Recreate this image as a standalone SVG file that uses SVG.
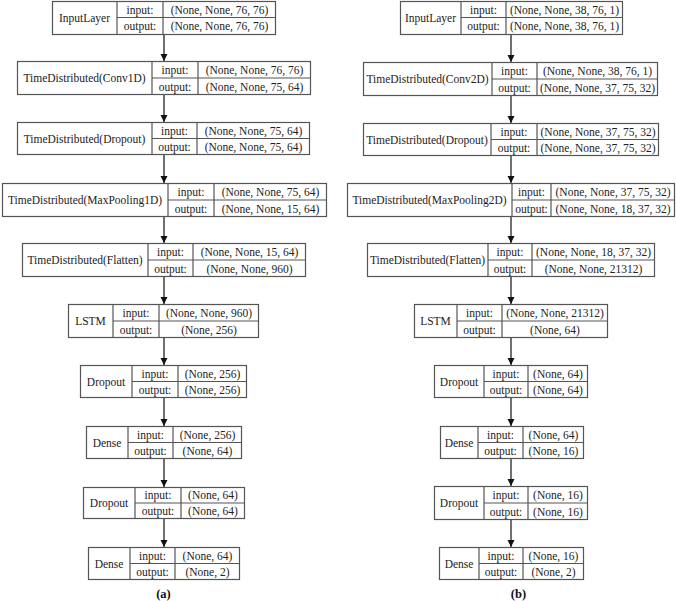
<svg xmlns="http://www.w3.org/2000/svg" width="676" height="601" viewBox="0 0 676 601">
<style>
  rect.box { fill: #ffffff; stroke: #555555; stroke-width: 1.2; }
  line.div { stroke: #555555; stroke-width: 1.2; }
  text { font-family: "Liberation Serif", "Times New Roman", serif; font-size: 11.5px; fill: #222222; text-anchor: middle; dominant-baseline: central; }
  text.cap { font-weight: bold; font-size: 12.5px; fill: #111111; }
  .conn line { stroke: #111111; stroke-width: 1.2; }
</style>
<defs>
  <marker id="arr" markerUnits="userSpaceOnUse" markerWidth="8" markerHeight="8" refX="7" refY="3.5" orient="auto">
    <path d="M0,0 L7,3.5 L0,7 z" fill="#111111"/>
  </marker>
</defs>
<rect width="676" height="601" fill="#ffffff"/>

<g class="conn" id="connectors">
  <line x1="164" y1="34" x2="164" y2="61" marker-end="url(#arr)"/>
  <line x1="164" y1="95" x2="164" y2="122" marker-end="url(#arr)"/>
  <line x1="164" y1="155" x2="164" y2="183" marker-end="url(#arr)"/>
  <line x1="164" y1="217" x2="164" y2="243" marker-end="url(#arr)"/>
  <line x1="164" y1="277" x2="164" y2="304" marker-end="url(#arr)"/>
  <line x1="164" y1="338" x2="164" y2="365" marker-end="url(#arr)"/>
  <line x1="164" y1="398" x2="164" y2="426" marker-end="url(#arr)"/>
  <line x1="164" y1="459" x2="164" y2="487" marker-end="url(#arr)"/>
  <line x1="164" y1="519" x2="164" y2="547" marker-end="url(#arr)"/>
  <line x1="511" y1="34" x2="511" y2="62" marker-end="url(#arr)"/>
  <line x1="511" y1="96" x2="511" y2="123" marker-end="url(#arr)"/>
  <line x1="511" y1="156" x2="511" y2="183" marker-end="url(#arr)"/>
  <line x1="511" y1="217" x2="511" y2="243" marker-end="url(#arr)"/>
  <line x1="511" y1="277" x2="511" y2="304" marker-end="url(#arr)"/>
  <line x1="511" y1="338" x2="511" y2="365" marker-end="url(#arr)"/>
  <line x1="511" y1="398" x2="511" y2="426" marker-end="url(#arr)"/>
  <line x1="511" y1="459" x2="511" y2="486" marker-end="url(#arr)"/>
  <line x1="511" y1="520" x2="511" y2="547" marker-end="url(#arr)"/>
</g>

<!-- Left column (a) -->
<g id="a_input">
  <rect class="box" x="52.5" y="1.5" width="223" height="33"/>
  <line class="div" x1="117" y1="1.5" x2="117" y2="34.5"/>
  <line class="div" x1="163" y1="1.5" x2="163" y2="34.5"/>
  <line class="div" x1="117" y1="17.5" x2="275.5" y2="17.5"/>
  <text x="84.5" y="17.5">InputLayer</text>
  <text x="140" y="9.5">input:</text>
  <text x="140" y="26">output:</text>
  <text x="219.5" y="9.5">(None, None, 76, 76)</text>
  <text x="219.5" y="26">(None, None, 76, 76)</text>
</g>
<g id="a_conv">
  <rect class="box" x="17.5" y="61.5" width="293" height="33"/>
  <line class="div" x1="152" y1="61.5" x2="152" y2="94.5"/>
  <line class="div" x1="198" y1="61.5" x2="198" y2="94.5"/>
  <line class="div" x1="152" y1="78" x2="310.5" y2="78"/>
  <text x="84.5" y="78">TimeDistributed(Conv1D)</text>
  <text x="175" y="69.5">input:</text>
  <text x="175" y="86.5">output:</text>
  <text x="254.5" y="69.5">(None, None, 76, 76)</text>
  <text x="254.5" y="86.5">(None, None, 75, 64)</text>
</g>
<g id="a_tddropout">
  <rect class="box" x="17.5" y="122.5" width="292" height="32"/>
  <line class="div" x1="152" y1="122.5" x2="152" y2="154.5"/>
  <line class="div" x1="197" y1="122.5" x2="197" y2="154.5"/>
  <line class="div" x1="152" y1="138.5" x2="309.5" y2="138.5"/>
  <text x="84.5" y="138.5">TimeDistributed(Dropout)</text>
  <text x="174.5" y="130.5">input:</text>
  <text x="174.5" y="146.5">output:</text>
  <text x="253.5" y="130.5">(None, None, 75, 64)</text>
  <text x="253.5" y="146.5">(None, None, 75, 64)</text>
</g>
<g id="a_pool">
  <rect class="box" x="2.5" y="183.5" width="324" height="33"/>
  <line class="div" x1="168" y1="183.5" x2="168" y2="216.5"/>
  <line class="div" x1="214" y1="183.5" x2="214" y2="216.5"/>
  <line class="div" x1="168" y1="200" x2="326.5" y2="200"/>
  <text x="85" y="200">TimeDistributed(MaxPooling1D)</text>
  <text x="191" y="191.5">input:</text>
  <text x="191" y="208.5">output:</text>
  <text x="270.5" y="191.5">(None, None, 75, 64)</text>
  <text x="270.5" y="208.5">(None, None, 15, 64)</text>
</g>
<g id="a_flatten">
  <rect class="box" x="22.5" y="243.5" width="283" height="33"/>
  <line class="div" x1="148" y1="243.5" x2="148" y2="276.5"/>
  <line class="div" x1="193" y1="243.5" x2="193" y2="276.5"/>
  <line class="div" x1="148" y1="260" x2="305.5" y2="260"/>
  <text x="85" y="260">TimeDistributed(Flatten)</text>
  <text x="170.5" y="251.5">input:</text>
  <text x="170.5" y="268.5">output:</text>
  <text x="249.5" y="251.5">(None, None, 15, 64)</text>
  <text x="249.5" y="268.5">(None, None, 960)</text>
</g>
<g id="a_lstm">
  <rect class="box" x="68.5" y="304.5" width="190" height="33"/>
  <line class="div" x1="113" y1="304.5" x2="113" y2="337.5"/>
  <line class="div" x1="159" y1="304.5" x2="159" y2="337.5"/>
  <line class="div" x1="113" y1="321" x2="258.5" y2="321"/>
  <text x="90.5" y="321">LSTM</text>
  <text x="136" y="312.5">input:</text>
  <text x="136" y="329.5">output:</text>
  <text x="209" y="312.5">(None, None, 960)</text>
  <text x="209" y="329.5">(None, 256)</text>
</g>
<g id="a_dropout1">
  <rect class="box" x="80.5" y="365.5" width="166" height="32"/>
  <line class="div" x1="132" y1="365.5" x2="132" y2="397.5"/>
  <line class="div" x1="178" y1="365.5" x2="178" y2="397.5"/>
  <line class="div" x1="132" y1="381.5" x2="246.5" y2="381.5"/>
  <text x="106" y="381.5">Dropout</text>
  <text x="155" y="373.5">input:</text>
  <text x="155" y="389.5">output:</text>
  <text x="212.5" y="373.5">(None, 256)</text>
  <text x="212.5" y="389.5">(None, 256)</text>
</g>
<g id="a_dense1">
  <rect class="box" x="86.5" y="426.5" width="155" height="32"/>
  <line class="div" x1="128" y1="426.5" x2="128" y2="458.5"/>
  <line class="div" x1="173" y1="426.5" x2="173" y2="458.5"/>
  <line class="div" x1="128" y1="442.5" x2="241.5" y2="442.5"/>
  <text x="107" y="442.5">Dense</text>
  <text x="150.5" y="434.5">input:</text>
  <text x="150.5" y="450.5">output:</text>
  <text x="207.5" y="434.5">(None, 256)</text>
  <text x="207.5" y="450.5">(None, 64)</text>
</g>
<g id="a_dropout2">
  <rect class="box" x="83.5" y="487.5" width="161" height="31"/>
  <line class="div" x1="135" y1="487.5" x2="135" y2="518.5"/>
  <line class="div" x1="181" y1="487.5" x2="181" y2="518.5"/>
  <line class="div" x1="135" y1="503" x2="244.5" y2="503"/>
  <text x="109" y="503">Dropout</text>
  <text x="158" y="495">input:</text>
  <text x="158" y="511">output:</text>
  <text x="213" y="495">(None, 64)</text>
  <text x="213" y="511">(None, 64)</text>
</g>
<g id="a_dense2">
  <rect class="box" x="88.5" y="547.5" width="151" height="32"/>
  <line class="div" x1="130" y1="547.5" x2="130" y2="579.5"/>
  <line class="div" x1="175" y1="547.5" x2="175" y2="579.5"/>
  <line class="div" x1="130" y1="563.5" x2="239.5" y2="563.5"/>
  <text x="109" y="563.5">Dense</text>
  <text x="152.5" y="555.5">input:</text>
  <text x="152.5" y="571.5">output:</text>
  <text x="207.5" y="555.5">(None, 64)</text>
  <text x="207.5" y="571.5">(None, 2)</text>
</g>
<text class="cap" x="163.5" y="594">(a)</text>

<!-- Right column (b) -->
<g id="b_input">
  <rect class="box" x="400.5" y="1.5" width="222" height="33"/>
  <line class="div" x1="461" y1="1.5" x2="461" y2="34.5"/>
  <line class="div" x1="506" y1="1.5" x2="506" y2="34.5"/>
  <line class="div" x1="461" y1="17.5" x2="622.5" y2="17.5"/>
  <text x="430.5" y="17.5">InputLayer</text>
  <text x="483.5" y="9.5">input:</text>
  <text x="483.5" y="26">output:</text>
  <text x="564.5" y="9.5">(None, None, 38, 76, 1)</text>
  <text x="564.5" y="26">(None, None, 38, 76, 1)</text>
</g>
<g id="b_conv">
  <rect class="box" x="363.5" y="62.5" width="294" height="33"/>
  <line class="div" x1="492" y1="62.5" x2="492" y2="95.5"/>
  <line class="div" x1="537" y1="62.5" x2="537" y2="95.5"/>
  <line class="div" x1="492" y1="79" x2="657.5" y2="79"/>
  <text x="427.5" y="79">TimeDistributed(Conv2D)</text>
  <text x="514.5" y="70.5">input:</text>
  <text x="514.5" y="87.5">output:</text>
  <text x="597.5" y="70.5">(None, None, 38, 76, 1)</text>
  <text x="597.5" y="87.5">(None, None, 37, 75, 32)</text>
</g>
<g id="b_tddropout">
  <rect class="box" x="363.5" y="123.5" width="295" height="32"/>
  <line class="div" x1="491" y1="123.5" x2="491" y2="155.5"/>
  <line class="div" x1="537" y1="123.5" x2="537" y2="155.5"/>
  <line class="div" x1="491" y1="139.5" x2="658.5" y2="139.5"/>
  <text x="427" y="139.5">TimeDistributed(Dropout)</text>
  <text x="514" y="131.5">input:</text>
  <text x="514" y="147.5">output:</text>
  <text x="598" y="131.5">(None, None, 37, 75, 32)</text>
  <text x="598" y="147.5">(None, None, 37, 75, 32)</text>
</g>
<g id="b_pool">
  <rect class="box" x="347.5" y="183.5" width="327" height="33"/>
  <line class="div" x1="512" y1="183.5" x2="512" y2="216.5"/>
  <line class="div" x1="551" y1="183.5" x2="551" y2="216.5"/>
  <line class="div" x1="512" y1="200" x2="674.5" y2="200"/>
  <text x="429.5" y="200">TimeDistributed(MaxPooling2D)</text>
  <text x="531.5" y="191.5">input:</text>
  <text x="531.5" y="208.5">output:</text>
  <text x="613" y="191.5">(None, None, 37, 75, 32)</text>
  <text x="613" y="208.5">(None, None, 18, 37, 32)</text>
</g>
<g id="b_flatten">
  <rect class="box" x="367.5" y="243.5" width="287" height="33"/>
  <line class="div" x1="488" y1="243.5" x2="488" y2="276.5"/>
  <line class="div" x1="532" y1="243.5" x2="532" y2="276.5"/>
  <line class="div" x1="488" y1="260" x2="654.5" y2="260"/>
  <text x="427.5" y="260">TimeDistributed(Flatten)</text>
  <text x="510" y="251.5">input:</text>
  <text x="510" y="268.5">output:</text>
  <text x="593.5" y="251.5">(None, None, 18, 37, 32)</text>
  <text x="593.5" y="268.5">(None, None, 21312)</text>
</g>
<g id="b_lstm">
  <rect class="box" x="414.5" y="304.5" width="193" height="33"/>
  <line class="div" x1="457" y1="304.5" x2="457" y2="337.5"/>
  <line class="div" x1="502" y1="304.5" x2="502" y2="337.5"/>
  <line class="div" x1="457" y1="321" x2="607.5" y2="321"/>
  <text x="435.5" y="321">LSTM</text>
  <text x="479.5" y="312.5">input:</text>
  <text x="479.5" y="329.5">output:</text>
  <text x="555" y="312.5">(None, None, 21312)</text>
  <text x="555" y="329.5">(None, 64)</text>
</g>
<g id="b_dropout1">
  <rect class="box" x="434.5" y="365.5" width="153" height="32"/>
  <line class="div" x1="484" y1="365.5" x2="484" y2="397.5"/>
  <line class="div" x1="528" y1="365.5" x2="528" y2="397.5"/>
  <line class="div" x1="484" y1="381.5" x2="587.5" y2="381.5"/>
  <text x="459" y="381.5">Dropout</text>
  <text x="506" y="373.5">input:</text>
  <text x="506" y="389.5">output:</text>
  <text x="558" y="373.5">(None, 64)</text>
  <text x="558" y="389.5">(None, 64)</text>
</g>
<g id="b_dense1">
  <rect class="box" x="440.5" y="426.5" width="143" height="32"/>
  <line class="div" x1="478" y1="426.5" x2="478" y2="458.5"/>
  <line class="div" x1="523" y1="426.5" x2="523" y2="458.5"/>
  <line class="div" x1="478" y1="442.5" x2="583.5" y2="442.5"/>
  <text x="459" y="442.5">Dense</text>
  <text x="500.5" y="434.5">input:</text>
  <text x="500.5" y="450.5">output:</text>
  <text x="553.5" y="434.5">(None, 64)</text>
  <text x="553.5" y="450.5">(None, 16)</text>
</g>
<g id="b_dropout2">
  <rect class="box" x="434.5" y="486.5" width="153" height="33"/>
  <line class="div" x1="484" y1="486.5" x2="484" y2="519.5"/>
  <line class="div" x1="528" y1="486.5" x2="528" y2="519.5"/>
  <line class="div" x1="484" y1="503" x2="587.5" y2="503"/>
  <text x="459" y="503">Dropout</text>
  <text x="506" y="494.5">input:</text>
  <text x="506" y="511.5">output:</text>
  <text x="558" y="494.5">(None, 16)</text>
  <text x="558" y="511.5">(None, 16)</text>
</g>
<g id="b_dense2">
  <rect class="box" x="439.5" y="547.5" width="144" height="32"/>
  <line class="div" x1="479" y1="547.5" x2="479" y2="579.5"/>
  <line class="div" x1="523" y1="547.5" x2="523" y2="579.5"/>
  <line class="div" x1="479" y1="563.5" x2="583.5" y2="563.5"/>
  <text x="459" y="563.5">Dense</text>
  <text x="501" y="555.5">input:</text>
  <text x="501" y="571.5">output:</text>
  <text x="553.5" y="555.5">(None, 16)</text>
  <text x="553.5" y="571.5">(None, 2)</text>
</g>
<text class="cap" x="518.5" y="594">(b)</text>
</svg>
